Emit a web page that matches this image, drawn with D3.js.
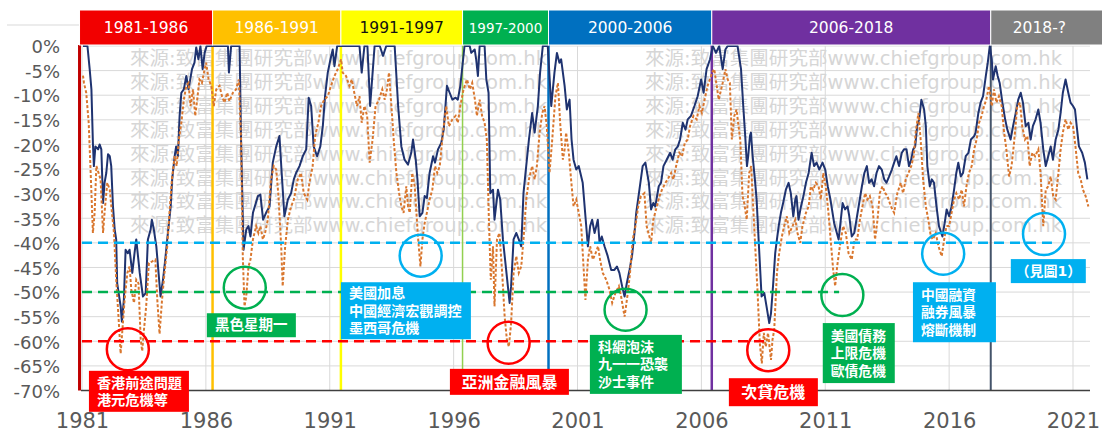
<!DOCTYPE html>
<html>
<head>
<meta charset="utf-8">
<script src="https://cdnjs.cloudflare.com/ajax/libs/d3/7.8.5/d3.min.js"></script>
<style>
  html, body { margin: 0; padding: 0; background: #ffffff; }
  svg { display: block; }
</style>
</head>
<body>
<svg id="chart" width="1102" height="434"></svg>
<script>
// ---------------------------------------------------------------
// Hang Seng drawdown from previous peak (%), by decimal year
// ---------------------------------------------------------------

// month-end close drawdown (solid navy)
const drawdownClose = [
  [1981.04,0],[1981.22,0],[1981.31,-4.7],[1981.38,-8.8],[1981.44,-19.7],[1981.48,-24.4],[1981.54,-20.4],
  [1981.65,-21.0],[1981.71,-20.0],[1981.78,-21.0],[1981.85,-31.9],[1981.91,-27.8],[1981.98,-25.8],
  [1982.05,-22.0],[1982.12,-22.4],[1982.18,-24.4],[1982.25,-32.6],[1982.32,-37.3],[1982.38,-39.3],
  [1982.42,-48.2],[1982.48,-50.2],[1982.56,-52.9],[1982.61,-56.0],[1982.69,-51.6],[1982.76,-41.4],
  [1982.85,-42.1],[1982.92,-41.4],[1983.03,-46.1],[1983.12,-42.1],[1983.19,-39.3],[1983.26,-42.7],
  [1983.33,-46.1],[1983.46,-50.9],[1983.57,-50.2],[1983.66,-39.3],[1983.77,-37.3],[1983.82,-35.3],
  [1983.90,-37.3],[1984.00,-40.7],[1984.09,-46.1],[1984.17,-50.9],[1984.27,-47.5],[1984.36,-43.4],
  [1984.44,-39.3],[1984.58,-32.6],[1984.64,-27.1],[1984.74,-22.4],[1984.80,-20.4],[1984.87,-22.4],
  [1984.94,-14.2],[1985.01,-9.5],[1985.11,-8.8],[1985.21,-6.1],[1985.30,-8.8],[1985.44,-4.7],
  [1985.54,-3.4],[1985.61,-0.3],[1985.70,-2.7],[1985.78,0],[1985.87,-4.7],[1985.95,-1.4],[1986.03,0],
  [1986.89,0],[1986.93,-5.4],[1987.02,0],[1987.36,0],[1987.42,-19.0],[1987.52,-41.4],[1987.63,-37.3],
  [1987.72,-36.6],[1987.80,-38.7],[1987.90,-33.9],[1988.10,-30.5],[1988.20,-30.2],[1988.31,-35.3],
  [1988.43,-33.9],[1988.57,-32.6],[1988.70,-23.7],[1988.84,-20.4],[1988.97,-18.3],[1989.06,-25.8],
  [1989.17,-34.6],[1989.31,-31.2],[1989.44,-29.9],[1989.55,-27.1],[1989.64,-25.8],[1989.78,-24.4],
  [1989.91,-22.4],[1990.05,-21.0],[1990.15,-10.5],[1990.25,-12.2],[1990.35,-20.4],[1990.49,-22.4],
  [1990.62,-20.4],[1990.72,-16.3],[1990.81,-10.2],[1990.92,-5.4],[1991.03,-2.7],[1991.12,-0.7],
  [1991.19,-4.1],[1991.30,0],[1992.20,0],[1992.29,-5.4],[1992.40,0],[1992.52,0],[1992.63,-12.2],
  [1992.73,-5.4],[1992.81,0],[1993.02,0],[1993.15,-2.0],[1993.28,0],[1993.62,0],[1993.76,-12.2],
  [1993.89,-20.4],[1994.02,-23.1],[1994.16,-24.1],[1994.29,-21.7],[1994.36,-19.0],[1994.47,-23.1],
  [1994.54,-27.1],[1994.63,-34.6],[1994.74,-33.9],[1994.83,-30.5],[1994.92,-30.9],[1995.03,-25.8],
  [1995.17,-22.4],[1995.25,-23.7],[1995.37,-21.0],[1995.50,-19.7],[1995.60,-17.0],[1995.73,-8.1],
  [1995.84,-9.5],[1995.95,-10.9],[1996.08,-10.5],[1996.17,-10.9],[1996.27,-8.1],[1996.44,0],
  [1996.65,0],[1996.71,-1.4],[1996.85,-0.7],[1996.91,-2.7],[1996.98,-6.1],[1997.05,0],[1997.25,0],
  [1997.32,-6.8],[1997.41,-9.5],[1997.48,-29.9],[1997.59,-29.2],[1997.65,-35.3],[1997.79,-29.2],
  [1997.88,-31.2],[1997.99,-39.3],[1998.12,-45.5],[1998.26,-52.2],[1998.32,-48.8],[1998.42,-39.3],
  [1998.53,-38.0],[1998.63,-39.3],[1998.73,-40.7],[1998.82,-29.9],[1998.93,-24.4],[1999.04,-19.0],
  [1999.17,-13.6],[1999.27,-17.6],[1999.40,-12.2],[1999.49,-5.4],[1999.60,0],[1999.80,0],
  [1999.94,-12.2],[2000.07,-5.4],[2000.17,-1.4],[2000.27,-3.4],[2000.34,-2.7],[2000.48,-8.1],
  [2000.57,-12.9],[2000.68,-10.9],[2000.76,-19.0],[2000.84,-23.1],[2000.95,-25.1],[2001.05,-24.4],
  [2001.21,-27.8],[2001.32,-34.6],[2001.42,-40.7],[2001.51,-36.6],[2001.59,-35.3],[2001.69,-38.0],
  [2001.82,-35.3],[2001.89,-40.0],[2001.98,-38.7],[2002.09,-40.7],[2002.22,-42.7],[2002.36,-45.5],
  [2002.49,-45.5],[2002.59,-44.8],[2002.69,-46.1],[2002.80,-48.8],[2002.90,-50.9],[2002.99,-48.2],
  [2003.10,-45.5],[2003.20,-42.7],[2003.30,-38.0],[2003.37,-33.9],[2003.50,-29.2],[2003.63,-24.4],
  [2003.74,-23.7],[2003.88,-27.8],[2003.97,-33.2],[2004.06,-31.9],[2004.14,-32.6],[2004.28,-28.5],
  [2004.37,-27.8],[2004.47,-24.4],[2004.60,-23.1],[2004.74,-21.7],[2004.84,-23.1],[2004.95,-21.0],
  [2005.05,-20.4],[2005.14,-19.0],[2005.25,-15.6],[2005.36,-17.0],[2005.45,-14.9],[2005.58,-14.2],
  [2005.72,-12.2],[2005.85,-10.2],[2005.99,-6.8],[2006.09,-9.5],[2006.21,-4.7],[2006.35,-2.7],
  [2006.46,0],[2006.59,-1.4],[2006.72,0],[2006.86,-4.7],[2006.97,-0.7],[2007.06,0],[2007.46,0],
  [2007.60,-4.7],[2007.69,-12.2],[2007.77,-18.3],[2007.84,-24.4],[2007.89,-22.4],[2007.96,-18.3],
  [2008.00,-17.6],[2008.07,-22.4],[2008.16,-27.1],[2008.23,-31.2],[2008.31,-39.3],[2008.43,-50.9],
  [2008.54,-50.2],[2008.63,-52.9],[2008.74,-56.3],[2008.81,-54.3],[2008.90,-48.2],[2008.98,-42.1],
  [2009.05,-39.3],[2009.12,-36.6],[2009.21,-33.9],[2009.30,-31.9],[2009.41,-29.2],[2009.52,-27.8],
  [2009.61,-29.9],[2009.71,-34.6],[2009.79,-31.2],[2009.84,-30.5],[2009.92,-35.3],[2010.02,-32.6],
  [2010.12,-30.5],[2010.22,-27.8],[2010.33,-25.8],[2010.45,-21.7],[2010.55,-24.4],[2010.65,-23.7],
  [2010.76,-25.1],[2010.89,-23.7],[2011.00,-25.1],[2011.10,-28.5],[2011.21,-31.2],[2011.36,-36.0],
  [2011.54,-39.3],[2011.60,-36.6],[2011.70,-31.9],[2011.80,-33.2],[2011.90,-32.6],[2011.97,-34.6],
  [2012.07,-38.7],[2012.17,-38.0],[2012.26,-35.3],[2012.37,-31.9],[2012.48,-28.5],[2012.58,-25.8],
  [2012.68,-24.4],[2012.77,-27.8],[2012.87,-27.1],[2012.97,-28.5],[2013.07,-25.8],[2013.17,-24.4],
  [2013.28,-25.1],[2013.38,-27.1],[2013.47,-27.8],[2013.58,-26.5],[2013.69,-25.1],[2013.78,-23.7],
  [2013.87,-22.4],[2013.98,-24.4],[2014.09,-21.7],[2014.18,-21.0],[2014.28,-21.0],[2014.38,-24.4],
  [2014.47,-23.1],[2014.55,-21.0],[2014.63,-20.4],[2014.71,-16.3],[2014.79,-14.9],[2014.88,-10.9],
  [2014.99,-12.9],[2015.06,-16.3],[2015.12,-24.4],[2015.22,-28.5],[2015.30,-27.1],[2015.39,-27.8],
  [2015.49,-32.6],[2015.59,-36.6],[2015.73,-38.7],[2015.82,-36.0],[2015.90,-33.2],[2016.00,-34.6],
  [2016.10,-32.6],[2016.20,-29.2],[2016.29,-25.8],[2016.37,-23.7],[2016.47,-26.5],[2016.56,-25.8],
  [2016.67,-22.4],[2016.78,-21.7],[2016.88,-19.0],[2017.01,-18.3],[2017.07,-17.6],[2017.18,-13.6],
  [2017.27,-11.5],[2017.37,-10.2],[2017.48,-6.1],[2017.56,-3.4],[2017.64,0],[2017.72,-2.7],
  [2017.77,-6.8],[2017.88,-4.1],[2017.96,-6.1],[2018.04,-7.5],[2018.15,-11.5],[2018.26,-14.9],
  [2018.35,-17.0],[2018.48,-19.0],[2018.58,-16.3],[2018.69,-13.6],[2018.79,-10.9],[2018.89,-9.5],
  [2018.98,-11.5],[2019.09,-16.3],[2019.20,-15.6],[2019.29,-19.0],[2019.38,-16.3],[2019.49,-14.9],
  [2019.60,-12.9],[2019.69,-15.6],[2019.80,-21.0],[2019.90,-24.4],[2020.00,-22.4],[2020.10,-20.4],
  [2020.19,-23.1],[2020.30,-19.0],[2020.41,-17.0],[2020.50,-13.6],[2020.59,-9.5],[2020.70,-6.8],
  [2020.81,-9.5],[2020.90,-11.5],[2021.00,-12.2],[2021.08,-12.9],[2021.15,-16.3],[2021.24,-20.4],
  [2021.37,-21.7],[2021.48,-23.7],[2021.58,-27.1]
];

// intramonth low drawdown (dashed orange)
const drawdownLow = [
  [1981.04,-6.0],[1981.08,-7.5],[1981.17,-9.5],[1981.27,-15.6],[1981.35,-25.8],[1981.44,-38.0],
  [1981.51,-33.9],[1981.58,-24.4],[1981.67,-25.8],[1981.75,-27.1],[1981.85,-38.0],[1981.91,-33.9],
  [1982.02,-27.8],[1982.12,-29.2],[1982.21,-33.9],[1982.29,-38.0],[1982.38,-47.5],[1982.48,-55.6],
  [1982.56,-62.5],[1982.63,-57.7],[1982.72,-51.6],[1982.83,-46.1],[1982.92,-44.8],[1982.99,-49.5],
  [1983.10,-52.2],[1983.19,-47.5],[1983.28,-48.2],[1983.37,-59.7],[1983.43,-62.0],[1983.50,-57.7],
  [1983.59,-52.9],[1983.70,-44.1],[1983.82,-43.8],[1983.96,-43.4],[1984.04,-51.6],[1984.13,-58.5],
  [1984.23,-51.6],[1984.33,-46.1],[1984.44,-40.7],[1984.53,-33.9],[1984.63,-27.1],[1984.74,-22.4],
  [1984.82,-24.4],[1984.91,-19.0],[1985.01,-15.6],[1985.11,-10.9],[1985.21,-8.1],[1985.30,-7.5],
  [1985.38,-12.2],[1985.48,-8.8],[1985.57,-14.2],[1985.65,-10.9],[1985.74,-6.8],[1985.84,-7.5],
  [1985.95,-4.7],[1986.01,-3.4],[1986.11,-6.8],[1986.22,-8.1],[1986.32,-12.2],[1986.42,-8.8],
  [1986.55,-8.1],[1986.65,-10.2],[1986.75,-11.5],[1986.86,-9.5],[1986.95,-11.2],[1987.09,-9.5],
  [1987.22,-8.8],[1987.33,-6.8],[1987.42,-19.0],[1987.49,-42.7],[1987.56,-52.9],[1987.63,-50.9],
  [1987.72,-44.8],[1987.80,-43.4],[1987.90,-39.3],[1988.03,-36.6],[1988.12,-38.0],[1988.20,-36.6],
  [1988.30,-39.3],[1988.39,-38.0],[1988.50,-35.3],[1988.63,-27.1],[1988.74,-24.4],[1988.84,-25.1],
  [1988.93,-30.5],[1989.04,-40.7],[1989.10,-48.8],[1989.20,-40.7],[1989.31,-35.3],[1989.44,-32.6],
  [1989.55,-31.2],[1989.71,-27.1],[1989.84,-25.8],[1989.95,-29.9],[1990.09,-31.2],[1990.18,-27.8],
  [1990.31,-24.4],[1990.41,-18.3],[1990.54,-15.6],[1990.65,-12.2],[1990.78,-10.9],[1990.92,-10.2],
  [1991.05,-8.1],[1991.19,-6.1],[1991.32,-4.7],[1991.46,-2.7],[1991.52,-5.4],[1991.66,-6.1],
  [1991.79,-8.1],[1991.89,-6.8],[1991.99,-9.5],[1992.10,-12.2],[1992.20,-10.2],[1992.29,-15.6],
  [1992.40,-12.2],[1992.51,-14.2],[1992.61,-23.7],[1992.73,-19.0],[1992.85,-12.2],[1992.99,-10.9],
  [1993.12,-8.8],[1993.22,-10.9],[1993.31,-8.8],[1993.39,-5.4],[1993.49,-12.2],[1993.58,-19.0],
  [1993.69,-25.8],[1993.80,-29.9],[1993.89,-32.6],[1993.98,-33.9],[1994.09,-28.5],[1994.16,-32.6],
  [1994.23,-33.9],[1994.33,-25.8],[1994.43,-28.5],[1994.56,-38.7],[1994.66,-44.8],[1994.74,-39.3],
  [1994.83,-36.0],[1994.92,-33.9],[1995.03,-31.2],[1995.14,-29.2],[1995.25,-24.4],[1995.34,-25.8],
  [1995.44,-24.4],[1995.57,-17.6],[1995.70,-12.2],[1995.81,-16.3],[1995.95,-14.9],[1996.08,-14.2],
  [1996.17,-15.6],[1996.27,-12.2],[1996.40,-8.8],[1996.54,-6.8],[1996.65,-8.8],[1996.75,-7.5],
  [1996.86,-10.9],[1996.94,-14.2],[1997.05,-10.9],[1997.15,-14.2],[1997.25,-15.6],[1997.34,-19.0],
  [1997.42,-34.6],[1997.50,-47.5],[1997.59,-40.7],[1997.65,-52.9],[1997.75,-39.3],[1997.85,-38.0],
  [1997.96,-46.1],[1998.06,-55.0],[1998.15,-59.7],[1998.23,-61.1],[1998.32,-56.3],[1998.42,-46.1],
  [1998.53,-42.7],[1998.63,-46.1],[1998.73,-44.8],[1998.82,-39.3],[1998.93,-31.2],[1999.04,-27.1],
  [1999.17,-24.4],[1999.27,-27.1],[1999.36,-24.4],[1999.47,-17.6],[1999.58,-13.6],[1999.67,-12.2],
  [1999.76,-16.3],[1999.87,-25.8],[1999.98,-19.0],[2000.11,-10.2],[2000.21,-7.5],[2000.30,-15.6],
  [2000.41,-23.1],[2000.48,-21.0],[2000.54,-17.6],[2000.65,-21.7],[2000.74,-27.1],[2000.84,-32.6],
  [2000.95,-31.2],[2001.05,-33.9],[2001.15,-36.6],[2001.32,-51.6],[2001.42,-43.4],[2001.51,-40.7],
  [2001.62,-43.4],[2001.73,-42.1],[2001.83,-40.7],[2001.91,-43.4],[2002.02,-46.1],[2002.16,-47.5],
  [2002.29,-49.5],[2002.40,-52.2],[2002.53,-50.2],[2002.67,-48.8],[2002.76,-50.9],[2002.90,-55.0],
  [2003.03,-50.2],[2003.12,-46.1],[2003.23,-39.3],[2003.34,-36.6],[2003.45,-32.6],[2003.56,-30.5],
  [2003.70,-29.9],[2003.79,-36.6],[2003.97,-40.0],[2004.06,-35.3],[2004.17,-33.2],[2004.31,-30.5],
  [2004.41,-29.2],[2004.55,-27.8],[2004.64,-27.1],[2004.78,-25.8],[2004.87,-27.1],[2004.98,-24.4],
  [2005.11,-21.7],[2005.22,-22.4],[2005.33,-19.7],[2005.45,-19.0],[2005.54,-16.3],[2005.68,-14.2],
  [2005.81,-14.9],[2005.92,-12.2],[2006.02,-13.6],[2006.13,-10.9],[2006.25,-8.1],[2006.39,-6.1],
  [2006.43,-5.4],[2006.52,-4.7],[2006.70,-10.9],[2006.86,-7.5],[2006.97,-4.7],[2007.06,-6.8],
  [2007.15,-7.5],[2007.23,-19.0],[2007.33,-14.2],[2007.42,-12.9],[2007.50,-16.3],[2007.57,-19.0],
  [2007.66,-30.5],[2007.73,-31.9],[2007.83,-35.3],[2007.93,-25.8],[2008.01,-24.4],[2008.09,-32.6],
  [2008.27,-50.2],[2008.36,-60.4],[2008.44,-64.5],[2008.52,-58.3],[2008.60,-61.1],[2008.69,-58.3],
  [2008.81,-63.8],[2008.87,-59.7],[2008.94,-57.7],[2009.05,-46.1],[2009.14,-42.1],[2009.25,-38.7],
  [2009.34,-36.6],[2009.45,-34.6],[2009.55,-38.0],[2009.68,-36.6],[2009.79,-35.3],[2009.88,-38.0],
  [2009.99,-40.0],[2010.08,-36.6],[2010.22,-33.9],[2010.33,-32.6],[2010.42,-28.5],[2010.51,-29.2],
  [2010.62,-27.8],[2010.73,-28.5],[2010.82,-31.2],[2010.92,-25.8],[2011.02,-28.5],[2011.13,-33.9],
  [2011.24,-40.7],[2011.32,-45.5],[2011.40,-48.8],[2011.48,-44.8],[2011.59,-40.7],[2011.72,-36.6],
  [2011.83,-38.0],[2011.94,-42.1],[2012.07,-43.4],[2012.18,-39.3],[2012.29,-39.3],[2012.40,-35.3],
  [2012.50,-32.6],[2012.61,-29.9],[2012.70,-31.2],[2012.80,-30.5],[2012.91,-32.6],[2013.01,-39.3],
  [2013.11,-35.3],[2013.20,-29.9],[2013.31,-28.5],[2013.42,-29.9],[2013.51,-30.5],[2013.65,-32.6],
  [2013.78,-33.9],[2013.91,-29.9],[2014.05,-27.8],[2014.14,-29.9],[2014.25,-27.1],[2014.36,-25.8],
  [2014.47,-24.4],[2014.57,-22.4],[2014.65,-17.6],[2014.76,-13.6],[2014.85,-19.0],[2014.95,-27.1],
  [2015.06,-32.6],[2015.16,-35.3],[2015.26,-38.7],[2015.35,-39.3],[2015.46,-38.0],[2015.57,-40.7],
  [2015.70,-42.7],[2015.80,-39.3],[2015.89,-36.6],[2016.00,-36.6],[2016.10,-33.9],[2016.20,-31.2],
  [2016.29,-29.9],[2016.40,-31.2],[2016.51,-29.2],[2016.60,-32.6],[2016.70,-28.5],[2016.80,-25.8],
  [2016.91,-24.4],[2017.01,-21.0],[2017.11,-19.0],[2017.21,-15.6],[2017.31,-14.2],[2017.41,-12.2],
  [2017.50,-10.9],[2017.61,-8.1],[2017.72,-12.2],[2017.81,-8.8],[2017.91,-11.5],[2018.01,-10.2],
  [2018.12,-12.2],[2018.22,-17.6],[2018.31,-21.0],[2018.42,-26.5],[2018.52,-24.4],[2018.62,-19.7],
  [2018.75,-12.2],[2018.86,-11.5],[2018.95,-16.3],[2019.06,-19.0],[2019.16,-18.3],[2019.25,-24.4],
  [2019.36,-21.7],[2019.47,-22.4],[2019.60,-21.0],[2019.69,-25.8],[2019.80,-36.6],[2019.90,-29.2],
  [2020.00,-28.5],[2020.10,-26.5],[2020.20,-30.5],[2020.30,-31.2],[2020.41,-25.8],[2020.50,-21.0],
  [2020.59,-17.6],[2020.70,-14.9],[2020.81,-17.0],[2020.90,-15.6],[2021.00,-16.3],[2021.10,-20.4],
  [2021.21,-25.8],[2021.31,-27.1],[2021.40,-29.2],[2021.51,-30.5],[2021.62,-32.6]
];

// axis ticks
const yTicks = [0, -5, -10, -15, -20, -25, -30, -35, -40, -45, -50, -55, -60, -65, -70];
const xTicks = [1981, 1986, 1991, 1996, 2001, 2006, 2011, 2016, 2021];

// market eras (header bands) and their boundaries
const eraLabels = ["1981-1986", "1986-1991", "1991-1997", "1997-2000", "2000-2006", "2006-2018", "2018-?"];
const eraBounds = [1980.9, 1986.27, 1991.45, 1996.36, 1999.83, 2006.42, 2017.68, 2022.2];

// reference drawdown levels and how far each dashed line runs
const thresholdLevels = [-40, -50, -60];
const thresholdEnds = [2020.15, 2011.56, 2008.54];

// crisis markers: circled troughs
const troughYears = [1982.85, 1987.57, 1994.67, 1998.22, 2002.94, 2008.70, 2011.69, 2015.76, 2019.83];
const troughLevels = [-61.6, -49.1, -42.6, -60.3, -53.6, -61.8, -50.6, -42.2, -38.2];

// crisis captions
const eventLines = [
  ["香港前途問題", "港元危機等"],
  ["黑色星期一"],
  ["美國加息", "中國經濟宏觀調控", "墨西哥危機"],
  ["亞洲金融風暴"],
  ["科網泡沫", "九一一恐襲", "沙士事件"],
  ["次貸危機"],
  ["美國債務", "上限危機", "歐債危機"],
  ["中國融資", "融券風暴", "熔斷機制"],
  ["（見圖1）"]
];

// ---------------------------------------------------------------
// styling and layout
// ---------------------------------------------------------------
const RED = "#FF0000", GREEN = "#00B050", CYAN = "#00B0F0";
const eraFill = ["#F20000", "#FFC000", "#FFFF00", "#00B050", "#0070C0", "#7030A0", "#808080"];
const eraText = ["#ffffff", "#ffffff", "#111111", "#ffffff", "#ffffff", "#ffffff", "#ffffff"];
const eraFont = [15.5, 15.5, 15.5, 13.5, 15.5, 15.5, 15.5];
const eraLine = ["#C00000", "#FFC000", "#FFFF00", "#92D050", "#0070C0", "#7030A0", "#44546A"];
const eraLineW = [3, 2.5, 2.5, 1.5, 2.5, 2.5, 2];
const thresholdColors = [CYAN, GREEN, RED];
const troughColors = [RED, GREEN, CYAN, RED, GREEN, RED, GREEN, CYAN, CYAN];
// caption boxes: anchor (year, level) of top-left corner, size in px, fill, font size
const eventBoxes = [
  { t: 1981.28, v: -66.0, w: 100, h: 41, fill: RED,   fs: 14.2 },
  { t: 1986.04, v: -54.3, w: 89,  h: 24, fill: GREEN, fs: 14.5 },
  { t: 1991.45, v: -48.0, w: 130, h: 57, fill: CYAN,  fs: 14.1 },
  { t: 1995.85, v: -65.6, w: 119, h: 26, fill: RED,   fs: 16 },
  { t: 2001.50, v: -58.7, w: 92,  h: 59, fill: GREEN, fs: 14 },
  { t: 2007.11, v: -67.5, w: 89,  h: 28, fill: RED,   fs: 16 },
  { t: 2010.90, v: -56.3, w: 72,  h: 60, fill: GREEN, fs: 13.8 },
  { t: 2014.54, v: -48.0, w: 83,  h: 60, fill: CYAN,  fs: 13.8 },
  { t: 2018.49, v: -43.3, w: 75,  h: 24, fill: CYAN,  fs: 14 }
];

const plotLeft = 81, plotRight = 1090;
const x = d3.scaleLinear().domain([1981, 2021]).range([82, 1073]);
const y = d3.scaleLinear().domain([0, -70]).range([46, 390.5]);

const svg = d3.select("#chart");
const LATIN = "'DejaVu Sans', sans-serif";
const CJK = "'Noto Sans CJK TC', 'Noto Sans CJK SC', sans-serif";
// captions: compact Latin metrics for the line boxes, CJK glyphs come from Noto
const CAPTION = "'DejaVu Sans', 'Noto Sans CJK TC', 'Noto Sans CJK SC', sans-serif";

// short grey rule at the top-left corner of the chart frame
svg.append("line").attr("x1", 7).attr("x2", 79).attr("y1", 25).attr("y2", 25)
  .attr("stroke", "#d9d9d9").attr("stroke-width", 1);

// gridlines
const grid = svg.append("g");
grid.selectAll("line.h").data(yTicks).join("line").attr("class", "h")
  .attr("x1", plotLeft).attr("x2", plotRight)
  .attr("y1", d => y(d)).attr("y2", d => y(d))
  .attr("stroke", "#d9d9d9").attr("stroke-width", 1);
grid.selectAll("line.v").data(xTicks).join("line").attr("class", "v")
  .attr("x1", d => x(d)).attr("x2", d => x(d))
  .attr("y1", y(0)).attr("y2", y(-70))
  .attr("stroke", "#d9d9d9").attr("stroke-width", 1);

// source watermark
const mark = "來源:致富集團研究部www.chiefgroup.com.hk";
const wm = svg.append("g").attr("fill", "#d6d6d6").attr("font-family", LATIN + ", " + CJK)
  .attr("font-size", 19);
[130, 645].forEach(x0 => {
  d3.range(8).forEach(i => {
    wm.append("text").attr("x", x0).attr("y", 58 + i * 23.9)
      .attr("dominant-baseline", "central")
      .attr("textLength", 417).attr("lengthAdjust", "spacingAndGlyphs")
      .text(mark);
  });
});

// era boundary lines
svg.append("g").selectAll("line").data(eraBounds.slice(0, 7)).join("line")
  .attr("x1", d => x(d)).attr("x2", d => x(d))
  .attr("y1", y(0) - 1).attr("y2", y(-70))
  .attr("stroke", (d, i) => eraLine[i]).attr("stroke-width", (d, i) => eraLineW[i]);

// drawdown series
const line = d3.line().x(d => x(d[0])).y(d => y(d[1]));
svg.append("path").datum(drawdownClose).attr("d", line)
  .attr("fill", "none").attr("stroke", "#1F3370").attr("stroke-width", 2)
  .attr("stroke-linejoin", "round");
svg.append("path").datum(drawdownLow).attr("d", line)
  .attr("fill", "none").attr("stroke", "#D9772F").attr("stroke-width", 2)
  .attr("stroke-dasharray", "3,2");

// x axis baseline
svg.append("line").attr("x1", plotLeft).attr("x2", plotRight)
  .attr("y1", y(-70)).attr("y2", y(-70))
  .attr("stroke", "#3f3f3f").attr("stroke-width", 1.5);

// reference levels
svg.append("g").selectAll("line").data(thresholdLevels).join("line")
  .attr("x1", plotLeft + 1).attr("x2", (d, i) => x(thresholdEnds[i]))
  .attr("y1", d => y(d)).attr("y2", d => y(d))
  .attr("stroke", (d, i) => thresholdColors[i]).attr("stroke-width", 2.5)
  .attr("stroke-dasharray", "10,6");

// circled troughs
svg.append("g").selectAll("circle").data(troughYears).join("circle")
  .attr("cx", d => x(d)).attr("cy", (d, i) => y(troughLevels[i])).attr("r", 21)
  .attr("fill", "none").attr("stroke", (d, i) => troughColors[i]).attr("stroke-width", 2.5);

// caption boxes; multi-line captions are one text block with a tspan per line
const boxes = svg.append("g").selectAll("g").data(eventBoxes).join("g")
  .attr("transform", d => `translate(${x(d.t)},${y(d.v)})`);
boxes.append("rect").attr("width", d => d.w).attr("height", d => d.h).attr("fill", d => d.fill);
boxes.each(function (d, i) {
  const lines = eventLines[i];
  const single = lines.length === 1;
  const step = 17.5;
  const y0 = (d.h - (lines.length - 1) * step) / 2;
  const txt = d3.select(this).append("text")
    .attr("text-anchor", single ? "middle" : "start")
    .attr("fill", "#ffffff").attr("font-weight", 700)
    .attr("font-family", CAPTION).attr("font-size", d.fs);
  lines.forEach((s, k) => {
    txt.append("tspan")
      .attr("x", single ? d.w / 2 : 8)
      .attr("y", y0 + k * step + d.fs * 0.36)
      .text(s);
  });
});

// era header bands
const bands = svg.append("g").selectAll("g").data(eraLabels).join("g");
bands.append("rect")
  .attr("x", (d, i) => x(eraBounds[i]))
  .attr("width", (d, i) => x(eraBounds[i + 1]) - x(eraBounds[i]))
  .attr("y", 10).attr("height", 35)
  .attr("fill", (d, i) => eraFill[i]).attr("stroke", "#ffffff").attr("stroke-width", 1);
bands.append("text")
  .attr("x", (d, i) => (x(eraBounds[i]) + Math.min(x(eraBounds[i + 1]), 1102)) / 2 - (i === 6 ? 7 : 0))
  .attr("y", 28).attr("text-anchor", "middle").attr("dominant-baseline", "central")
  .attr("fill", (d, i) => eraText[i]).attr("font-size", (d, i) => eraFont[i])
  .attr("font-family", LATIN)
  .text(d => d);

// y axis labels
const yAxis = svg.append("g").attr("transform", "translate(60,1)")
  .call(d3.axisLeft(y).tickValues(yTicks).tickFormat(d => d + "%").tickSize(0).tickPadding(0));
yAxis.select(".domain").remove();
yAxis.selectAll("text").attr("font-size", 18).attr("font-family", LATIN).attr("fill", "#595959");

// x axis labels
const xAxis = svg.append("g").attr("transform", "translate(0,413)")
  .call(d3.axisBottom(x).tickValues(xTicks).tickFormat(d3.format("d")).tickSize(0).tickPadding(0));
xAxis.select(".domain").remove();
xAxis.selectAll("text").attr("font-size", 21).attr("font-family", LATIN).attr("fill", "#595959");
</script>
</body>
</html>
